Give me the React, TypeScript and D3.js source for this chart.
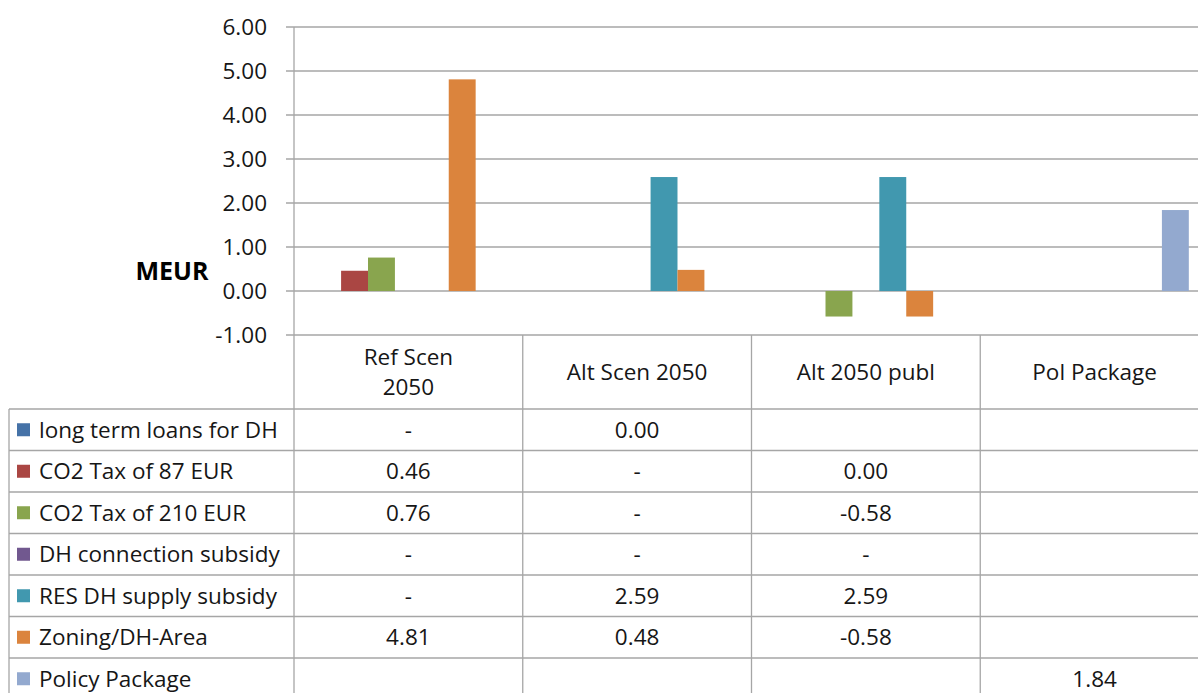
import * as d3 from 'd3';

const categories = ['Ref Scen\n2050', 'Alt Scen 2050', 'Alt 2050 publ', 'Pol Package'];
const seriesNames = [
  'long term loans for DH',
  'CO2 Tax of 87 EUR',
  'CO2 Tax of 210 EUR',
  'DH connection subsidy',
  'RES DH supply subsidy',
  'Zoning/DH-Area',
  'Policy Package',
];
const seriesColors = ['#4572A7', '#AA4643', '#89A54E', '#71588F', '#4198AF', '#DB843D', '#93A9CF'];
// null = blank cell, 0 shown as "-" or "0.00" depending on the table label
const loansValues = [0, 0, null, null];
const co2Tax87Values = [0.46, 0, 0, null];
const co2Tax210Values = [0.76, 0, -0.58, null];
const connectionValues = [0, 0, 0, null];
const resSupplyValues = [0, 2.59, 2.59, null];
const zoningValues = [4.81, 0.48, -0.58, null];
const packageValues = [null, null, null, 1.84];
const seriesValues = [loansValues, co2Tax87Values, co2Tax210Values, connectionValues, resSupplyValues, zoningValues, packageValues];
// labels printed in the data table
const loansLabels = ['-', '0.00', '', ''];
const co2Tax87Labels = ['0.46', '-', '0.00', ''];
const co2Tax210Labels = ['0.76', '-', '-0.58', ''];
const connectionLabels = ['-', '-', '-', ''];
const resSupplyLabels = ['-', '2.59', '2.59', ''];
const zoningLabels = ['4.81', '0.48', '-0.58', ''];
const packageLabels = ['', '', '', '1.84'];
const tableLabels = [loansLabels, co2Tax87Labels, co2Tax210Labels, connectionLabels, resSupplyLabels, zoningLabels, packageLabels];
const yTicks = [-1, 0, 1, 2, 3, 4, 5, 6];

const W = 1198;
const H = 693;
const font = '"Open Sans", sans-serif';
const fs = 22.5;
const textColor = '#161616';
const lineColor = '#a6a6a6';

export default function App() {
  const plotLeft = 294;
  const plotRight = 1209;
  const plotTop = 27;
  const plotBottom = 335;
  const headerBottom = 409;
  const rowH = 41.5;
  const tableLeft = 9;

  const x = d3.scaleBand<string>().domain(categories).range([plotLeft, plotRight]);
  const inner = d3
    .scaleBand<number>()
    .domain(d3.range(seriesNames.length))
    .range([0, x.bandwidth()])
    .paddingOuter(0.75)
    .paddingInner(0);
  const y = d3.scaleLinear().domain([-1, 6]).range([plotBottom, plotTop]);
  const fmt = (v: number) => d3.format('.2f')(v).replace('\u2212', '-');

  const rowY = (i: number) => headerBottom + i * rowH;

  return (
    <svg width={W} height={H} style={{ position: 'absolute', left: 0, top: 0, background: '#fff' }} fontFamily={font}>
      {/* gridlines and ticks */}
      {yTicks.map(t => (
        <g key={t}>
          <line x1={plotLeft - 8} x2={plotRight} y1={y(t)} y2={y(t)} stroke={lineColor} strokeWidth={1.3} />
          <text x={267} y={y(t)} dy="0.36em" textAnchor="end" fontSize={fs} fill={textColor}>
            {fmt(t)}
          </text>
        </g>
      ))}
      <text x={172} y={271} dy="0.36em" textAnchor="middle" fontSize={25} fontWeight="bold" fill="#000">
        MEUR
      </text>

      {/* bars */}
      {seriesValues.map((vals, si) =>
        vals.map((v, ci) =>
          v == null || v === 0 ? null : (
            <rect
              key={`${si}-${ci}`}
              x={(x(categories[ci]) ?? 0) + (inner(si) ?? 0)}
              y={y(Math.max(0, v))}
              width={inner.bandwidth()}
              height={Math.abs(y(v) - y(0))}
              fill={seriesColors[si]}
            />
          )
        )
      )}

      {/* table horizontal lines */}
      {d3.range(seriesNames.length + 1).map(i => (
        <line key={i} x1={tableLeft} x2={plotRight} y1={rowY(i)} y2={rowY(i)} stroke={lineColor} strokeWidth={1.3} />
      ))}
      {/* vertical lines */}
      <line x1={plotLeft} x2={plotLeft} y1={plotTop} y2={H} stroke={lineColor} strokeWidth={1.3} />
      <line x1={tableLeft} x2={tableLeft} y1={headerBottom} y2={H} stroke={lineColor} strokeWidth={1.3} />
      {categories.slice(1).map(c => (
        <line key={c} x1={x(c)} x2={x(c)} y1={plotBottom} y2={H} stroke={lineColor} strokeWidth={1.3} />
      ))}

      {/* header */}
      {categories.map(c => {
        const lines = c.split('\n');
        const cx = (x(c) ?? 0) + x.bandwidth() / 2;
        const cy = (plotBottom + headerBottom) / 2;
        return (
          <text key={c} x={cx} textAnchor="middle" fontSize={fs} fill={textColor}>
            {lines.map((l, i) => (
              <tspan key={i} x={cx} y={cy + (i - (lines.length - 1) / 2) * 30} dy="0.36em">
                {l}
              </tspan>
            ))}
          </text>
        );
      })}

      {/* rows */}
      {seriesNames.map((name, si) => {
        const cy = rowY(si) + rowH / 2;
        return (
          <g key={name}>
            <rect x={17} y={cy - 6.5} width={13} height={13} fill={seriesColors[si]} />
            <text x={39} y={cy} dy="0.36em" fontSize={fs} fill={textColor}>
              {name}
            </text>
            {tableLabels[si].map((lab, ci) => (
              <text
                key={ci}
                x={(x(categories[ci]) ?? 0) + x.bandwidth() / 2}
                y={cy}
                dy="0.36em"
                textAnchor="middle"
                fontSize={fs}
                fill={textColor}
              >
                {lab}
              </text>
            ))}
          </g>
        );
      })}
    </svg>
  );
}
